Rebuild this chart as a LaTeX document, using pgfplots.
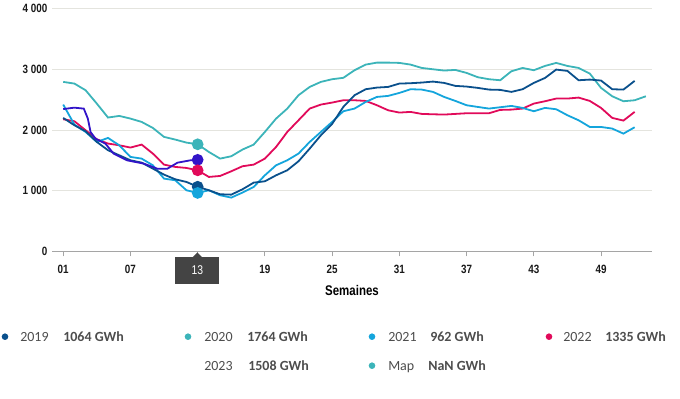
\documentclass[border=0pt]{standalone}
\usepackage{pgfplots}
\pgfplotsset{compat=1.18}
\usepackage{pgfplotstable}
\usepackage{fontspec}
\setmainfont{Carlito}
\newfontfamily\narrowfont[FakeStretch=0.82]{Liberation Sans}
\definecolor{c19}{RGB}{10,80,140}
\definecolor{c20}{RGB}{60,180,185}
\definecolor{c21}{RGB}{20,165,220}
\definecolor{c22}{RGB}{225,10,90}
\definecolor{c23}{RGB}{50,20,200}
\definecolor{txt}{RGB}{77,77,77}
\definecolor{boxg}{RGB}{68,68,68}
\definecolor{gridc}{RGB}{228,228,222}
\definecolor{axc}{RGB}{165,165,165}

\pgfplotstableread{
w v
1 2199
2 2078
3 1979
4 1803
5 1666
6 1583
7 1501
8 1462
9 1363
10 1264
11 1187
12 1143
13 1064
14 1006
15 940
16 934
17 1022
18 1132
19 1154
20 1253
21 1336
22 1484
23 1693
24 1913
25 2100
26 2380
27 2573
28 2672
29 2699
30 2710
31 2765
32 2771
33 2782
34 2798
35 2776
36 2727
37 2716
38 2694
39 2666
40 2661
41 2628
42 2672
43 2776
44 2858
45 2996
46 2974
47 2820
48 2831
49 2815
50 2672
51 2666
52 2809
}\dA

\pgfplotstableread{
w v
1 2793
2 2765
3 2655
4 2435
5 2205
6 2232
7 2188
8 2133
9 2034
10 1886
11 1842
12 1792
13 1764
14 1638
15 1528
16 1567
17 1677
18 1759
19 1968
20 2188
21 2353
22 2573
23 2710
24 2793
25 2837
26 2860
27 2985
28 3078
29 3111
30 3111
31 3106
32 3078
33 3023
34 3001
35 2980
36 2990
37 2941
38 2870
39 2837
40 2820
41 2968
42 3023
43 2985
44 3056
45 3106
46 3056
47 3023
48 2930
49 2694
50 2556
51 2474
52 2490
53 2556
}\dB

\pgfplotstableread{
w v
1 2419
2 2089
3 1968
4 1803
5 1869
6 1748
7 1556
8 1528
9 1418
10 1198
11 1171
12 1006
13 962
14 1006
15 924
16 885
17 968
18 1061
19 1253
20 1418
21 1501
22 1611
23 1803
24 1968
25 2133
26 2309
27 2353
28 2463
29 2545
30 2562
31 2611
32 2672
33 2666
34 2628
35 2545
36 2479
37 2408
38 2380
39 2353
40 2375
41 2397
42 2364
43 2309
44 2364
45 2342
46 2243
47 2160
48 2050
49 2050
50 2023
51 1940
52 2045
}\dC

\pgfplotstableread{
w v
1 2177
2 2144
3 1995
4 1847
5 1776
6 1748
7 1710
8 1759
9 1611
10 1429
11 1391
12 1374
13 1335
14 1226
15 1242
16 1319
17 1402
18 1429
19 1528
20 1721
21 1968
22 2160
23 2353
24 2419
25 2452
26 2490
27 2490
28 2479
29 2408
30 2325
31 2287
32 2298
33 2265
34 2259
35 2254
36 2265
37 2276
38 2276
39 2276
40 2331
41 2336
42 2353
43 2435
44 2474
45 2518
46 2518
47 2534
48 2479
49 2364
50 2199
51 2155
52 2298
}\dD

\pgfplotstableread{
w v
1 2345
2 2368
2.84 2352
3.2 2187
3.44 1967
3.88 1857
4.77 1774
5.5 1610
6.7 1500
8.2 1445
9.4 1362
10.3 1362
11.2 1461
12.35 1500
13 1508
}\dE

\begin{document}
\begin{tikzpicture}
\begin{scope}[x=0.75pt,y=0.75pt]
\path[use as bounding box] (0,0) rectangle (680,397);
\end{scope}
\begin{axis}[
  at={(39pt,110.775pt)}, anchor=south west,
  scale only axis, width=450pt, height=181.95pt,
  xmin=0, xmax=53.55, ymin=0, ymax=4000,
  axis x line*=bottom, axis y line*=left,
  y axis line style={draw=none},
  x axis line style={draw=axc, line width=0.8pt},
  xtick={1,7,13,19,25,31,37,43,49},
  xticklabels={01,07,{},19,25,31,37,43,49},
  ytick={0,1000,2000,3000,4000},
  yticklabels={0,1~000,2~000,3~000,4~000},
  ymajorgrids, grid style={draw=gridc, line width=0.6pt},
  xtick align=outside, major tick length=3.75pt,
  x tick style={draw=axc, line width=0.6pt},
  y tick style={draw=none},
  tick label style={font=\narrowfont\bfseries\fontsize{9}{10}\selectfont, text=black!90},
  xticklabel style={yshift=-3pt},
  xlabel={Semaines},
  xlabel style={font=\narrowfont\bfseries\fontsize{10.5}{12}\selectfont, yshift=-2pt},
  clip=false,
  every axis plot/.append style={line width=1.35pt},
]
\addplot[c20, no markers] table[x=w,y=v] {\dB};
\addplot[c22, no markers] table[x=w,y=v] {\dD};
\addplot[c21, no markers] table[x=w,y=v] {\dC};
\addplot[c19, no markers] table[x=w,y=v] {\dA};
\addplot[c23, no markers] table[x=w,y=v] {\dE};
\addplot[c20, only marks, mark=*, mark size=3.7pt] coordinates {(13,1764)};
\addplot[c23, only marks, mark=*, mark size=3.7pt] coordinates {(13,1508)};
\addplot[c22, only marks, mark=*, mark size=3.7pt] coordinates {(13,1335)};
\addplot[c19, only marks, mark=*, mark size=3.7pt] coordinates {(13,1064)};
\addplot[c21, only marks, mark=*, mark size=3.7pt] coordinates {(13,962)};
\end{axis}
\begin{scope}[x=0.75pt,y=0.75pt]
% highlighted tick 13
\fill[boxg] (197.3,146.5) -- (192.3,141.5) -- (202.3,141.5) -- cycle;
\node[fill=boxg, minimum width=33pt, minimum height=20.25pt, inner sep=0pt, text=white,
  font=\narrowfont\fontsize{9.5}{10}\selectfont] at (197.3,128.5) {13};
% legend
\begin{scope}[every node/.style={anchor=base west, inner sep=0pt, text=txt, font=\fontsize{10.5}{12}\selectfont}]
\fill[c19] (5,62.3) circle (3.3);
\node at (20,57.7) {2019}; \node at (63,57.7) {\bfseries 1064 GWh};
\fill[c20] (188,62.3) circle (3.3);
\node at (204,57.7) {2020}; \node at (247,57.7) {\bfseries 1764 GWh};
\fill[c21] (372,62.3) circle (3.3);
\node at (388,57.7) {2021}; \node at (430,57.7) {\bfseries 962 GWh};
\fill[c22] (549,62.3) circle (3.3);
\node at (563,57.7) {2022}; \node at (605,57.7) {\bfseries 1335 GWh};
\node at (204,28.7) {2023}; \node at (248,28.7) {\bfseries 1508 GWh};
\fill[c20] (372,33.3) circle (3.3);
\node at (388,28.7) {Map}; \node at (428,28.7) {\bfseries NaN GWh};
\end{scope}
\end{scope}
\end{tikzpicture}
\end{document}
